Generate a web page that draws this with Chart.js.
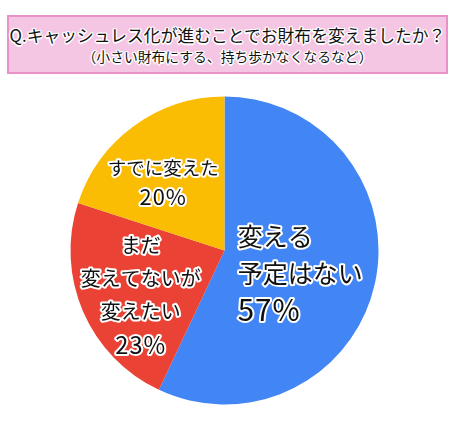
<!DOCTYPE html>
<html lang="ja">
<head>
<meta charset="utf-8">
<title>キャッシュレス化とお財布</title>
<script src="https://cdn.jsdelivr.net/npm/chart.js@4.4.1/dist/chart.umd.min.js"></script>
<style>
  html, body { margin: 0; padding: 0; background: #fff; }
  body { width: 452px; height: 431px; position: relative; overflow: hidden;
         font-family: "Noto Sans CJK JP", "Noto Sans", sans-serif; }
  .title {
    position: absolute; left: 7px; top: 15px; width: 437px; height: 55px;
    background: #f5c5e4; border: 2px solid #e892c8;
    text-align: center; color: #111;
    text-shadow: 1.5px 0 #fff, -1.5px 0 #fff, 0 1.5px #fff, 0 -1.5px #fff,
                 1px 1px #fff, -1px -1px #fff, 1px -1px #fff, -1px 1px #fff;
  }
  .title .q { font-size: 16.8px; line-height: 20px; margin-top: 8px; white-space: nowrap; }
  .title .sub { font-size: 13.8px; line-height: 17px; margin-top: 3px; }
  #wrap { position: absolute; left: 0; top: 0; width: 452px; height: 431px; }
</style>
</head>
<body>
<div id="wrap"><canvas id="pie"></canvas></div>
<div class="title">
  <div class="q">Q.キャッシュレス化が進むことでお財布を変えましたか？</div>
  <div class="sub">（小さい財布にする、持ち歩かなくなるなど）</div>
</div>
<script>
// answers, clockwise from 12 o'clock
const categories = ['変える予定はない', 'まだ変えてないが変えたい', 'すでに変えた'];
const shares = [57, 23, 20];
const sliceColors = ['#4285f4', '#ea4335', '#fbbc04'];
// label text per slice (line breaks as in the original)
const labelLines = [
    ['変える', '予定はない'],
    ['まだ', '変えてないが', '変えたい'],
    ['すでに変えた']
];

// where each label sits relative to its slice centre
const labelStyle = [
    { size: 25, lineHeight: 36.5, align: 'left', dx: -62, dy: 6 },
    { size: 20, lineHeight: 33.3, align: 'center', dx: -13, dy: 14 },
    { size: 18.5, lineHeight: 29, align: 'center', dx: -16, dy: -6 }
];

const sliceLabels = {
    id: 'sliceLabels',
    afterDatasetsDraw(chart) {
        const ctx = chart.ctx;
        const arcs = chart.getDatasetMeta(0).data;
        arcs.forEach((arc, i) => {
            const p = arc.tooltipPosition();
            const st = labelStyle[i];
            const lines = labelLines[i].concat([shares[i] + '%']);
            const x = p.x + st.dx;
            const top = p.y + st.dy - (lines.length - 1) * st.lineHeight / 2;
            ctx.save();
            ctx.textAlign = st.align;
            ctx.textBaseline = 'middle';
            ctx.lineJoin = 'round';
            ctx.lineWidth = 4;
            ctx.strokeStyle = '#fff';
            ctx.fillStyle = '#111';
            lines.forEach((t, k) => {
                const y = top + k * st.lineHeight;
                // the percentage line uses bigger, wider digits
                const isPct = k === lines.length - 1;
                const size = isPct ? st.size * 1.18 : st.size;
                ctx.font = size + 'px "Noto Sans CJK JP", sans-serif';
                ctx.letterSpacing = isPct ? '1px' : '0px';
                ctx.strokeText(t, x, y);
                ctx.fillText(t, x, y);
            });
            ctx.restore();
        });
    }
};

new Chart(document.getElementById('pie'), {
    type: 'pie',
    data: {
        labels: categories,
        datasets: [{
            data: shares,
            backgroundColor: sliceColors,
            borderWidth: 0,
            hoverOffset: 0
        }]
    },
    options: {
        responsive: true,
        maintainAspectRatio: false,
        animation: false,
        layout: { padding: { left: 70.5, right: 73.5, top: 96.5, bottom: 26.5 } },
        plugins: {
            legend: { display: false },
            tooltip: { enabled: false }
        }
    },
    plugins: [sliceLabels]
});
</script>
</body>
</html>
